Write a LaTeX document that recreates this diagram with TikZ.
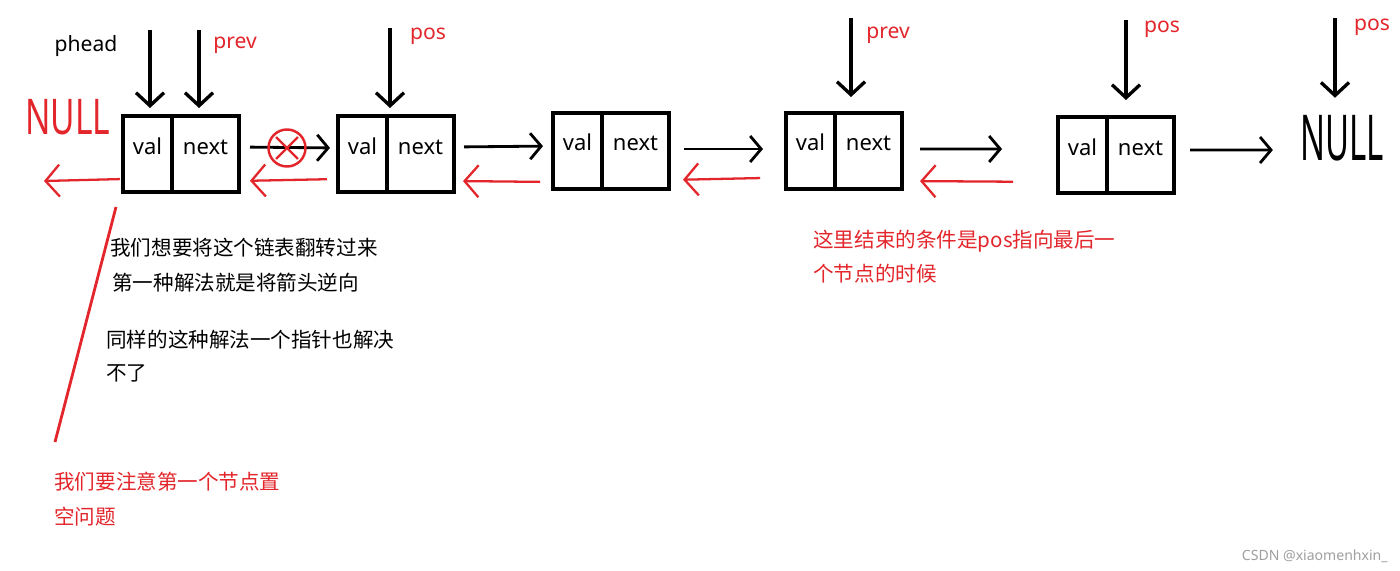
\documentclass[tikz,border=0pt]{standalone}
\usepackage{fontspec}
\setmainfont{Noto Sans}
\newfontfamily\cjk{Noto Sans CJK SC}
\usepackage{xcolor}
\definecolor{cRed}{HTML}{E3262B}
\definecolor{cGray}{HTML}{A0A0A0}
\usetikzlibrary{positioning,arrows.meta}
\tikzset{
  node-val/.style={draw=black,line width=2.2pt,outer sep=0pt,inner sep=0pt,
    minimum height=15.2mm,minimum width=9.8mm,text height=3mm,text depth=3mm,
    font=\fontsize{12.5}{14}\selectfont},
  node-next/.style={node-val,minimum width=13.4mm},
  label-ptr/.style={font=\fontsize{12}{14}\selectfont,inner sep=0pt},
  label-red/.style={label-ptr,text=cRed},
  note/.style={font=\cjk\fontsize{11.7}{14}\selectfont,anchor=west,inner sep=0pt},
  note-red/.style={note,text=cRed},
  % hand drawn open heads
  arrow-ptr/.style={-{Straight Barb[length=2.6mm,width=5.6mm]},line width=1.9pt,draw=black},
  arrow/.style={-{Straight Barb[length=2.2mm,width=5.2mm]},line width=1.6pt,draw=black},
  arrow-back/.style={-{Straight Barb[length=2.8mm,width=6.4mm]},line width=1.3pt,draw=cRed},
}

\begin{document}
\begin{tikzpicture}[x=0.2mm,y=-0.2mm]
  \useasboundingbox[fill=white] (0,0) rectangle (1400,571);
  % the five list nodes
  \node[node-val,anchor=north west] (v1) at (123,116) {val};
  \node[node-next,right=0pt of v1] (n1) {next};
  \node[node-val,right=19.8mm of n1] (v2) {val};
  \node[node-next,right=0pt of v2] (n2) {next};
  \node[node-val,right=19.8mm of n2,yshift=0.6mm] (v3) {val};
  \node[node-next,right=0pt of v3] (n3) {next};
  \node[node-val,right=23.4mm of n3] (v4) {val};
  \node[node-next,right=0pt of v4] (n4) {next};
  \node[node-val,right=31.2mm of n4,yshift=-0.8mm] (v5) {val};
  \node[node-next,right=0pt of v5] (n5) {next};

  \node[inner sep=0pt,text=cRed,font=\fontsize{28}{28}\selectfont] (null-l) at (68,117) {\scalebox{0.68}[1]{NULL}};
  \node[inner sep=0pt,font=\fontsize{36}{36}\selectfont] (null-r) at (1342,138) {\scalebox{0.52}[1]{NULL}};

  % pointer labels
  \node[label-ptr] (l-phead) at (86,46) {phead};
  \node[label-red] (l-prev1) at (235,45) {prev};
  \node[label-red] (l-pos1) at (428,36) {pos};
  \node[label-red] (l-prev2) at (888,35) {prev};
  \node[label-red] (l-pos2) at (1162,29) {pos};
  \node[label-red] (l-pos3) at (1372,27) {pos};

  \coordinate (phead-top) at (150,30);
  \coordinate (prev1-top) at (199,30);
  \coordinate (pos1-top) at (390,28);
  \coordinate (prev2-top) at (851,18);
  \coordinate (pos2-top) at (1126,20);
  \coordinate (pos3-top) at (1335,18);
  \draw[arrow-ptr,shorten >=1.6mm] (phead-top) -- (phead-top |- v1.north);
  \draw[arrow-ptr,shorten >=1.6mm] (prev1-top) -- (prev1-top |- n1.north);
  \draw[arrow-ptr,shorten >=1.6mm] (pos1-top) -- (pos1-top |- v2.north);
  \draw[arrow-ptr,shorten >=3.2mm] (prev2-top) -- (prev2-top |- n4.north);
  \draw[arrow-ptr,shorten >=3.4mm] (pos2-top) -- (pos2-top |- n5.north);
  \draw[arrow-ptr,shorten >=3.4mm] (pos3-top) -- (pos3-top |- null-r.north);

  % next links
  \draw[arrow,shorten <=2.2mm,shorten >=1.6mm] ([yshift=1.4mm]n1.east) -- ([yshift=1.2mm]v2.west);
  \draw[arrow,shorten <=2mm,shorten >=2mm] ([yshift=1.4mm]n2.east) -- ([yshift=1mm]v3.west);
  \draw[arrow,shorten <=3mm,shorten >=4.6mm] ([yshift=0.4mm]n3.east) -- ([yshift=0.4mm]v4.west);
  \draw[arrow,shorten <=3.6mm,shorten >=11.2mm] ([yshift=0.4mm]n4.east) -- ([yshift=1.2mm]v5.west);
  \draw[arrow,shorten <=3.2mm,shorten >=5.4mm] ([yshift=1mm]n5.east) -- ([yshift=-2.4mm]null-r.west);

  \node[circle,draw=cRed,line width=1.4pt,minimum size=7.4mm,inner sep=0pt] (cut) at (287,148) {};
  \draw[cRed,line width=1.4pt] ([shift={(-0.6mm,-0.6mm)}]cut.north east) -- ([shift={(0.6mm,0.6mm)}]cut.south west);
  \draw[cRed,line width=1.4pt] ([shift={(0.6mm,-0.6mm)}]cut.north west) -- ([shift={(-0.6mm,0.6mm)}]cut.south east);

  % reversed links
  \coordinate (null-l-end) at (44,181);
  \draw[arrow-back,shorten <=0.6mm] ([yshift=-5mm]v1.west) -- (null-l-end);
  \draw[arrow-back,shorten <=2.2mm,shorten >=2.2mm] ([yshift=-5mm]v2.west) -- ([yshift=-5.4mm]n1.east);
  \draw[arrow-back,shorten <=2.6mm,shorten >=1.8mm] ([yshift=-6.2mm]v3.west) -- ([yshift=-5.4mm]n2.east);
  \draw[arrow-back,shorten <=5.2mm,shorten >=2.8mm] ([yshift=-5.3mm]v4.west) -- ([yshift=-5.8mm]n3.east);
  \draw[arrow-back,shorten <=9mm,shorten >=3.6mm] ([yshift=-5.4mm]v5.west) -- ([yshift=-6mm]n4.east);

  \coordinate (slash-top) at (116,207);
  \coordinate (slash-bot) at (55,442);
  \draw[cRed,line width=1.6pt] (slash-top) -- (slash-bot);

  % notes
  \node[note] (note-a1) at (110,248) {我们想要将这个链表翻转过来};
  \node[note] (note-a2) at (112,283) {第一种解法就是将箭头逆向};
  \node[note] (note-b1) at (106,340) {同样的这种解法一个指针也解决};
  \node[note] (note-b2) at (106,373) {不了};
  \node[note-red] (note-c1) at (54,482) {我们要注意第一个节点置};
  \node[note-red] (note-c2) at (54,517) {空问题};
  \node[note-red] (note-d1) at (813,241) {这里结束的条件是pos指向最后一};
  \node[note-red] (note-d2) at (813,274) {个节点的时候};

  \node[anchor=east,inner sep=0pt,text=cGray,font=\fontsize{8}{10}\selectfont] (mark) at (1388,556) {CSDN @xiaomenhxin\_};
\end{tikzpicture}
\end{document}
